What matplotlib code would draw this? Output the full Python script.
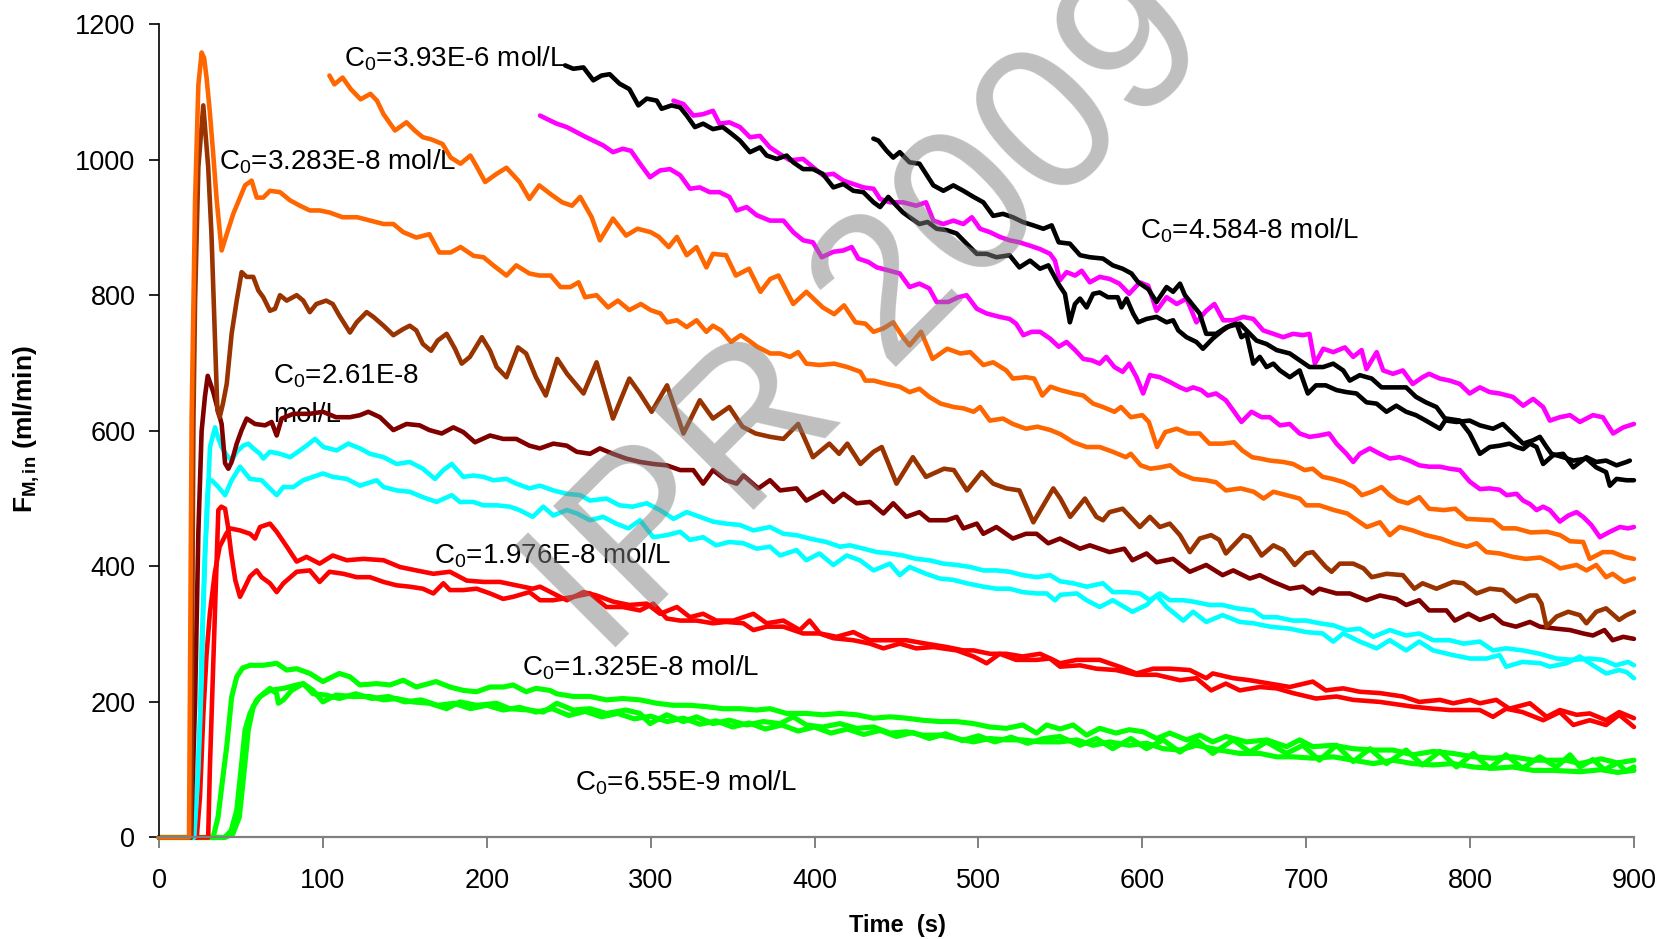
import numpy as np
import matplotlib
matplotlib.use("Agg")
import matplotlib.pyplot as plt

plt.rcParams["font.family"] = ["Liberation Sans", "DejaVu Sans"]
plt.rcParams["mathtext.fontset"] = "custom"
plt.rcParams["mathtext.rm"] = "Liberation Sans"
plt.rcParams["mathtext.it"] = "Liberation Sans:italic"
plt.rcParams["mathtext.bf"] = "Liberation Sans:bold"

# ── Flow-rate traces F_M,in (ml/min) vs time (s), read as (t, F) pairs ──────
ORANGE_HI = [
    (104, 1124), (107, 1111), (112, 1121), (117, 1104), (123, 1089), (129, 1097), (133, 1087),
    (137, 1067), (144, 1043), (151, 1055), (156, 1043), (161, 1033), (166, 1030), (173, 1023),
    (178, 1003), (184, 994), (190, 1006), (194, 989), (199, 967), (206, 979), (212, 988),
    (220, 967), (226, 942), (232, 962), (239, 949), (246, 937), (252, 932), (257, 945),
    (264, 915), (269, 881), (277, 913), (285, 888), (292, 898), (300, 893), (305, 886),
    (311, 871), (316, 886), (322, 859), (328, 871), (334, 841), (338, 861), (346, 859),
    (352, 829), (360, 839), (367, 805), (373, 824), (378, 829), (387, 787), (395, 805),
    (405, 782), (412, 772), (418, 785), (425, 760), (431, 758), (436, 746), (442, 751),
    (448, 760), (454, 738), (458, 726), (465, 746), (472, 706), (481, 721), (489, 714),
    (495, 716), (503, 697), (509, 701), (517, 689), (521, 677), (529, 679), (534, 677),
    (539, 652), (544, 665), (550, 660), (558, 655), (564, 652), (570, 640), (576, 635),
    (583, 628), (587, 635), (593, 620), (600, 623), (604, 613), (609, 576), (614, 598),
    (621, 603), (628, 596), (635, 596), (641, 581), (649, 581), (656, 583), (661, 571),
    (667, 561), (672, 559), (678, 556), (686, 554), (692, 551), (699, 542), (704, 544),
    (710, 532), (716, 529), (723, 524), (729, 517), (734, 505), (740, 510), (746, 517),
    (751, 505), (756, 497), (762, 493), (769, 502), (775, 485), (784, 483), (791, 485),
    (798, 470), (806, 469), (814, 468), (820, 456), (828, 456), (837, 450), (847, 451),
    (855, 446), (861, 437), (869, 436), (873, 411), (881, 421), (887, 421), (894, 414),
    (900, 411),
]

ORANGE_LO = [
    (0, 0), (18.3, 0), (19.3, 400), (19.9, 620), (22, 940), (24, 1110), (26, 1158),
    (27.5, 1150), (29, 1121), (31, 1070), (33, 1010), (35.2, 940), (38.2, 866), (41.3, 890),
    (45.3, 920), (49.4, 944), (52.5, 962), (56.5, 969), (59.6, 944), (63.6, 944), (67.7, 954),
    (73.8, 952), (79.9, 940), (86, 932), (92, 925), (98, 925), (104, 922), (112, 915),
    (121, 915), (129, 910), (137, 905), (143, 905), (149, 893), (157, 885), (165, 890),
    (171, 863), (178, 863), (184, 871), (192, 858), (198, 856), (204, 844), (212, 829),
    (218, 844), (226, 832), (232, 829), (239, 829), (245, 812), (251, 812), (256, 819),
    (260, 797), (267, 800), (274, 782), (280, 792), (287, 778), (294, 787), (300, 778),
    (306, 773), (310, 760), (316, 763), (322, 753), (328, 763), (334, 746), (338, 755),
    (343, 748), (349, 731), (355, 741), (360, 733), (365, 724), (373, 714), (379, 714),
    (385, 709), (390, 716), (395, 699), (403, 697), (412, 699), (420, 694), (428, 687),
    (431, 674), (436, 674), (444, 669), (452, 665), (458, 657), (464, 662), (470, 650),
    (477, 640), (485, 635), (491, 633), (497, 628), (501, 635), (507, 615), (515, 618),
    (521, 610), (529, 603), (536, 606), (544, 601), (550, 595), (558, 583), (566, 576),
    (574, 576), (582, 569), (590, 561), (593, 566), (599, 549), (605, 544), (611, 546),
    (617, 549), (623, 537), (631, 529), (639, 527), (645, 524), (651, 512), (660, 515),
    (668, 510), (674, 500), (680, 510), (688, 505), (696, 500), (700, 490), (708, 490),
    (717, 483), (725, 478), (731, 468), (737, 458), (745, 465), (751, 446), (757, 458),
    (765, 453), (773, 446), (782, 441), (790, 434), (798, 429), (804, 434), (810, 421),
    (818, 419), (826, 414), (834, 411), (843, 413), (849, 406), (855, 397), (865, 402),
    (871, 394), (877, 402), (883, 384), (887, 389), (894, 377), (900, 382),
]

BROWN = [
    (0, 0), (19.5, 0), (21, 615), (22, 792), (24, 989), (27, 1080), (30, 989), (32, 890),
    (34, 743), (35.6, 630), (37, 620), (39, 640), (41.3, 669), (44.3, 743), (47.4, 792),
    (50.4, 834), (53.5, 827), (57.5, 827), (60.6, 807), (63.6, 797), (67.7, 777), (70.8, 780),
    (73.8, 800), (77.9, 792), (84, 800), (88, 792), (92, 775), (96, 787), (102, 792),
    (106, 787), (110, 770), (116.5, 745), (120.6, 760), (126.7, 775), (130.8, 768), (137, 755),
    (143, 741), (149, 750), (153, 755), (157, 748), (161, 728), (166, 718), (170, 733),
    (175.5, 743), (180.6, 721), (184.7, 699), (189.7, 709), (197, 738), (202, 718), (206, 694),
    (212, 679), (219, 723), (224, 714), (230, 679), (236, 652), (243, 706), (249, 684),
    (259, 655), (267, 701), (277, 618), (287, 677), (293.5, 655), (300.6, 628), (310, 667),
    (320, 596), (330, 645), (338, 618), (348, 635), (356, 606), (364, 596), (373, 591),
    (381, 588), (390, 610), (399, 561), (409, 581), (415, 566), (420, 581), (428, 551),
    (436, 569), (441, 576), (450, 522), (460, 561), (468, 532), (479, 544), (485, 542),
    (493, 512), (502, 539), (509, 522), (517, 515), (525, 512), (533.5, 465), (545.7, 515),
    (550, 500), (556, 473), (565, 500), (572, 473), (576, 468), (580, 480), (588, 485),
    (598.5, 458), (604.6, 473), (610.7, 458), (616.8, 463), (623, 446), (629, 421), (635, 441),
    (642, 446), (647, 439), (651, 419), (661.6, 446), (665.6, 443), (672.8, 416), (680, 431),
    (686, 424), (693, 402), (700, 419), (704, 421), (712, 399), (715.5, 392), (720.5, 404),
    (728.7, 404), (735, 397), (740, 384), (749, 389), (759, 387), (766, 367), (771, 375),
    (779.5, 367), (789.7, 377), (796, 375), (804, 360), (812, 367), (820, 365), (828, 348),
    (836.5, 357), (840.6, 357), (843.6, 345), (846.7, 311), (852.8, 326), (859.9, 333),
    (867, 328), (871, 316), (877, 333), (883, 338), (891, 321), (895.5, 328), (900, 333),
]

MAROON = [
    (0, 0), (19.5, 0), (22, 200), (24, 450), (26, 600), (28, 650), (29.7, 681), (31, 672),
    (33, 658), (36, 630), (38.2, 610), (40.3, 552), (42.3, 544), (44.3, 554), (47.4, 581),
    (50.4, 601), (53.5, 618), (58.6, 610), (64.7, 608), (68.7, 613), (71.8, 593), (74.8, 618),
    (82, 625), (92, 625), (100, 628), (108, 620), (116.5, 620), (122.6, 623), (127.7, 628),
    (134.8, 620), (143, 601), (151, 610), (159, 608), (165, 601), (172.5, 596), (179.6, 605),
    (185.7, 598), (192.8, 583), (202, 593), (210, 588), (218, 588), (226, 578), (232.4, 574),
    (240.6, 581), (248.8, 578), (254.9, 569), (263, 566), (269, 574), (277, 566), (285, 559),
    (293.5, 554), (301.6, 551), (309.8, 549), (318, 542), (326, 542), (332, 522), (338, 542),
    (346, 527), (352.5, 522), (356.6, 534), (365.7, 515), (372.8, 527), (379, 512), (389, 515),
    (395, 497), (405, 510), (411.5, 495), (417.6, 507), (425.7, 493), (433.8, 495), (442, 478),
    (448, 493), (456, 473), (464, 480), (470, 468), (480.6, 468), (486.7, 473), (490.8, 456),
    (499, 463), (503, 448), (511, 458), (521, 441), (529, 448), (535.5, 448), (542.6, 434),
    (549.8, 441), (562, 426), (568, 431), (580, 421), (589, 426), (594, 409), (602.6, 419),
    (608.7, 406), (618.8, 411), (629, 392), (639, 402), (649, 387), (655.5, 394), (665.6, 382),
    (671.7, 387), (680, 377), (690, 367), (698, 370), (704, 360), (708, 367), (718.5, 360),
    (726.6, 360), (736.8, 350), (745, 357), (755, 352), (761, 343), (769, 350), (775, 335),
    (785.6, 335), (790.7, 320), (799, 330), (806, 321), (814, 328), (820, 316), (828, 311),
    (836.5, 318), (842.6, 311), (852.8, 308), (861, 306), (869, 301), (875, 298), (882, 306),
    (887, 291), (893.5, 296), (900, 293),
]

CYAN_HI = [
    (0, 0), (21, 0), (23, 60), (25, 180), (26, 281), (28, 420), (29.1, 463), (31.1, 576),
    (34.2, 605), (36, 590), (38.2, 576), (41.3, 564), (44.3, 556), (47.4, 569), (51.4, 578),
    (54.5, 581), (57.5, 574), (61.6, 566), (63.6, 559), (67.7, 569), (73.8, 566), (80, 561),
    (86, 571), (90, 578), (95.2, 588), (100.3, 576), (108.4, 571), (115.5, 581), (122.6, 574),
    (128.7, 566), (137, 561), (145, 551), (153, 554), (161, 544), (168.4, 529), (173.5, 542),
    (178.6, 551), (185.7, 532), (191.8, 534), (198, 532), (204, 527), (212, 529), (218, 522),
    (226, 515), (232.5, 519), (240.6, 512), (248.8, 507), (257, 505), (263, 497), (273, 500),
    (281, 490), (289, 488), (297.6, 493), (305.7, 483), (314, 470), (322, 480), (330, 473),
    (338, 466), (346, 463), (354.5, 461), (362.7, 453), (372.8, 458), (381, 448), (389, 446),
    (397, 441), (407, 436), (415.5, 429), (421.6, 431), (430, 426), (438, 421), (446, 419),
    (454, 416), (462, 411), (470, 409), (478.6, 404), (486.7, 402), (495, 399), (503, 394),
    (511, 394), (519, 392), (527, 387), (535.5, 384), (543.7, 387), (549.8, 378), (557.8, 375),
    (566, 370), (576, 375), (582, 362), (590, 362), (598.5, 360), (604.6, 350), (610.7, 360),
    (616.8, 350), (625, 350), (631, 348), (641, 343), (649, 343), (657.5, 338), (667.7, 335),
    (673.8, 325), (682, 325), (692, 320), (700, 320), (708, 316), (716.5, 313), (724.6, 306),
    (732.7, 308), (741, 296), (751, 306), (761, 298), (769, 301), (777.5, 291), (787.6, 291),
    (796, 286), (806, 289), (814, 276), (822, 279), (832, 276), (842.6, 271), (852.8, 264),
    (863, 262), (873, 264), (881, 262), (889, 254), (896.5, 259), (900, 254),
]

CYAN_LO = [
    (0, 0), (21.5, 0), (24, 100), (26, 230), (27, 330), (29, 480), (30.1, 527), (32.1, 527),
    (36.2, 517), (40.3, 505), (44.3, 527), (49.4, 547), (55.5, 529), (62.6, 527), (66.7, 517),
    (71.8, 505), (75.9, 517), (82, 517), (88, 527), (94, 532), (100, 537), (106, 532),
    (114.5, 529), (122.6, 519), (132.8, 527), (137, 517), (145, 512), (153, 510), (161, 502),
    (169.4, 495), (178.6, 505), (183.6, 495), (191.8, 495), (198, 490), (206, 490), (214, 488),
    (220, 483), (228, 473), (234.5, 488), (240.6, 475), (248.8, 483), (255, 478), (263, 468),
    (271, 473), (279, 463), (286.4, 456), (293.5, 468), (301.6, 443), (309.8, 446), (318, 451),
    (324, 439), (332, 443), (340, 431), (348, 436), (356.6, 434), (364.7, 426), (372.8, 429),
    (379, 416), (389, 424), (395, 409), (403, 419), (411.5, 402), (419.6, 416), (427.7, 409),
    (436, 394), (446, 404), (452, 387), (458, 399), (468, 389), (476.5, 382), (484.7, 380),
    (492.8, 375), (503, 370), (511, 367), (519, 367), (527, 362), (535.5, 360), (541.6, 360),
    (546.7, 350), (550, 358), (560, 360), (566, 350), (574, 340), (582, 350), (594, 333),
    (602.6, 343), (608.7, 357), (614.8, 340), (625, 320), (631, 333), (639, 318), (649, 328),
    (659.5, 318), (667.7, 316), (678, 311), (690, 308), (700, 303), (710, 301), (716.5, 289),
    (722.6, 301), (732.7, 289), (743, 279), (751, 291), (761, 276), (769, 289), (777.5, 276),
    (789.7, 269), (800, 264), (810, 264), (818, 269), (822, 252), (832, 259), (843, 257),
    (848.7, 252), (858.9, 257), (867, 267), (875, 254), (883, 242), (891, 247), (895.5, 244),
    (900, 235),
]

RED_LO = [
    (0, 0), (30, 0), (31, 100), (33, 250), (34.5, 360), (36.2, 483), (38, 488), (40.3, 485),
    (42, 460), (44, 420), (46.5, 380), (49.4, 355), (52.5, 370), (55.5, 385), (59.6, 394),
    (62.6, 384), (67.7, 375), (71.8, 362), (75.9, 375), (84, 392), (92, 394), (98, 377),
    (104, 392), (112.5, 389), (120.6, 384), (128.7, 384), (137, 377), (145, 372), (153, 370),
    (161, 367), (167.4, 360), (173.5, 375), (177.5, 365), (185.7, 365), (193.8, 367), (202, 360),
    (210, 352), (216, 355), (226, 362), (232.5, 350), (240.6, 350), (252.8, 355), (263, 360),
    (273, 340), (283, 340), (293.5, 335), (301.6, 345), (309.8, 323), (318, 320), (328, 320),
    (338, 316), (346, 318), (356.6, 316), (362.7, 306), (370.8, 311), (381, 311), (393, 301),
    (403, 301), (411.5, 294), (423.7, 291), (433.8, 286), (442, 279), (452, 286), (462, 279),
    (472.5, 281), (486.7, 276), (497, 267), (505, 257), (513, 271), (523, 262), (535.5, 262),
    (543.7, 264), (549.8, 252), (562, 254), (572, 249), (584, 247), (596.5, 240), (608.7, 240),
    (623, 232), (633, 235), (642, 217), (651, 227), (659.5, 217), (671.7, 222), (682, 220),
    (692, 213), (706, 205), (718.5, 208), (728.7, 203), (745, 200), (765, 193), (777.5, 190),
    (787.6, 188), (802, 188), (806, 188), (814, 178), (822, 190), (832, 185), (844.6, 173),
    (854.8, 185), (863, 166), (873, 173), (883, 166), (891, 181), (900, 163),
]

RED_HI = [
    (0, 0), (23, 0), (25, 60), (27, 180), (29, 270), (31, 330), (34, 390), (37, 429),
    (41, 448), (43.3, 456), (49.4, 453), (55.5, 448), (58.6, 441), (61.6, 458), (67.7, 463),
    (71.8, 451), (78, 429), (84, 407), (90, 414), (98, 404), (106, 416), (114.5, 409),
    (124.7, 411), (137, 409), (147, 399), (157, 394), (167.4, 389), (177.5, 392), (187.7, 379),
    (198, 377), (208, 377), (218, 372), (228, 367), (232.5, 370), (240.6, 360), (248.8, 350),
    (259, 362), (267, 357), (277, 348), (287, 343), (297.6, 345), (305.7, 330), (316, 340),
    (324, 325), (332, 330), (340, 320), (350.5, 320), (362.7, 330), (370.8, 316), (381, 320),
    (391, 306), (397, 320), (403.3, 301), (413.5, 296), (423.7, 303), (433.8, 291), (444, 291),
    (456, 291), (468, 286), (480.6, 281), (490.8, 276), (497, 276), (507, 271), (517, 271),
    (527, 267), (537.6, 271), (545.7, 262), (549.8, 257), (560, 262), (574, 262), (586, 252),
    (596.5, 242), (606.6, 249), (616.8, 249), (629, 247), (639, 235), (643, 242), (655.5, 235),
    (665.6, 232), (677.8, 227), (690, 222), (704, 230), (712, 217), (722.6, 220), (732.7, 215),
    (745, 213), (759, 208), (769, 200), (781.6, 203), (789.7, 198), (800, 203), (806, 198),
    (816, 203), (824, 190), (836.5, 198), (846.7, 178), (854.8, 188), (865, 181), (873, 183),
    (883, 173), (891, 185), (900, 176),
]

GREEN_A = [
    (0, 0), (33, 0), (36, 30), (38.5, 80), (41.3, 134), (44.3, 207), (47.4, 237), (51, 250),
    (55.5, 254), (63.6, 254), (71.8, 257), (77.9, 247), (84, 249), (92, 242), (100, 230),
    (110, 242), (116.5, 237), (122.6, 225), (132.8, 227), (141, 225), (149, 232), (157, 222),
    (169, 230), (177.5, 222), (185.7, 217), (193.8, 215), (202, 222), (210, 222), (216, 225),
    (224, 215), (230, 220), (238.5, 217), (242.7, 212), (252.8, 208), (263, 208), (273, 203),
    (283, 205), (293.5, 203), (303.7, 198), (314, 195), (324, 195), (334, 193), (344, 190),
    (354.5, 190), (364.7, 188), (372.8, 190), (383, 183), (395, 183), (405, 181), (415.5, 183),
    (425.7, 181), (436, 176), (446, 178), (456, 176), (466, 173), (476.5, 171), (486.7, 171),
    (497, 168), (507, 163), (517, 161), (527, 166), (535.5, 154), (541.6, 166), (549.8, 160),
    (557.8, 166), (566, 151), (574, 161), (584, 154), (592, 159), (600.5, 156), (608.7, 146),
    (616.8, 154), (627, 144), (635, 151), (643, 141), (651, 149), (663.6, 141), (676, 144),
    (688, 134), (696, 144), (704, 134), (716.5, 136), (728.7, 131), (741, 129), (753, 129),
    (765, 122), (777.5, 127), (789.7, 124), (802, 119), (814, 117), (826, 119), (838.5, 114),
    (846.6, 114), (858.8, 114), (867, 109), (880, 116), (890, 110), (900, 114),
]

GREEN_B = [
    (0, 0), (40, 0), (44, 10), (47.4, 40), (50.4, 109), (52.5, 159), (55.5, 183), (59.6, 203),
    (63.6, 212), (67.7, 220), (71.8, 212), (72.8, 198), (75.9, 203), (80.9, 217), (88, 227),
    (94, 217), (100, 200), (108, 210), (118.6, 208), (128.7, 208), (137, 203), (145, 205),
    (155, 200), (165, 198), (175.5, 190), (183.6, 200), (193.8, 195), (206, 198), (214, 190),
    (226, 188), (234.5, 185), (242.7, 198), (252.8, 188), (263, 190), (273, 183), (285, 188),
    (293.5, 183), (299.6, 168), (309.8, 181), (320, 171), (328, 178), (338, 168), (348, 173),
    (358.6, 166), (368.8, 171), (379, 168), (387, 178), (395, 166), (405, 163), (415.5, 168),
    (425.7, 161), (436, 163), (446, 154), (456, 156), (466, 151), (476.5, 151), (486.7, 146),
    (497, 141), (507, 146), (517, 144), (527, 144), (537.6, 141), (549.7, 141), (560, 144),
    (570, 136), (580, 141), (592, 136), (602.6, 139), (612.7, 131), (623, 129), (633, 136),
    (647, 129), (659.5, 124), (671.7, 124), (682, 119), (692, 119), (704, 117), (716.5, 119),
    (728.7, 114), (741, 109), (753, 114), (765, 109), (777.5, 107), (789.7, 109), (802, 104),
    (814, 102), (826, 104), (838.5, 99), (850.7, 99), (867, 97), (880, 100), (890, 96),
    (900, 99),
]

GREEN_C = [
    (0, 0), (40, 0), (45, 5), (49, 30), (51.4, 85), (54.5, 159), (57.5, 193), (61.6, 208),
    (67.7, 217), (75.9, 220), (84, 225), (88, 227), (94, 212), (102, 210), (110, 205),
    (120, 212), (130, 205), (140, 208), (150, 200), (160, 203), (170, 195), (180, 198),
    (190, 190), (200, 195), (210, 188), (220, 192), (230, 185), (240, 190), (250, 180),
    (260, 186), (270, 178), (280, 183), (290, 175), (300, 179), (310, 171), (320, 176),
    (330, 167), (340, 172), (350, 163), (360, 169), (370, 160), (380, 166), (390, 157),
    (400, 163), (410, 154), (420, 160), (430, 152), (440, 158), (450, 149), (460, 155),
    (470, 146), (480, 153), (490, 143), (500, 150), (510, 141), (520, 148), (530, 139),
    (540, 146), (549.7, 149), (561.9, 136), (572, 146), (582, 131), (593, 146), (602.6, 131),
    (612.7, 144), (623, 126), (633, 144), (643, 124), (655.5, 144), (665.6, 126), (675.8, 141),
    (688, 124), (698, 136), (708, 114), (718.5, 136), (728.7, 112), (739, 131), (749, 109),
    (761, 129), (771, 107), (781.6, 127), (791.7, 104), (802, 124), (812, 102), (822, 122),
    (832, 102), (842.5, 119), (852.7, 104), (861, 122), (867, 104), (875, 115), (882, 100),
    (890, 110), (895, 98), (900, 104),
]

MAGENTA_LO = [
    (232.5, 1065), (236.6, 1060), (242.7, 1053), (248.8, 1048), (252.8, 1043), (259, 1035),
    (265, 1028), (271, 1021), (277, 1011), (283, 1016), (288, 1013), (293.5, 994), (299.6, 974),
    (305.7, 984), (311.8, 986), (318, 977), (324, 957), (330, 959), (336, 952), (342, 952),
    (348, 945), (352.5, 925), (358.6, 930), (364.7, 918), (372.8, 910), (381, 910), (387, 893),
    (393, 881), (399, 878), (404.4, 856), (411.5, 864), (417.6, 866), (422.7, 871), (426.7, 854),
    (432.8, 849), (438, 841), (446, 836), (452, 832), (458, 812), (464, 817), (470, 810),
    (474.5, 790), (481.6, 790), (487.7, 797), (492.8, 800), (499, 780), (505, 773), (513, 768),
    (519, 765), (523, 758), (527.4, 741), (532.5, 746), (537.6, 746), (543.7, 736), (549, 724),
    (553.8, 731), (559, 719), (564, 706), (569, 704), (574, 699), (578, 709), (583, 694),
    (588, 687), (592, 699), (596.5, 679), (600.5, 655), (604.6, 682), (610.7, 679), (616.8, 672),
    (623, 664), (627, 660), (631, 664), (636, 660), (640, 652), (645, 655), (651, 645),
    (655.5, 630), (660.5, 613), (666.6, 628), (672.8, 620), (677.8, 620), (684, 608), (690, 610),
    (696, 596), (702, 591), (708, 593), (714, 596), (718.5, 581), (724.6, 566), (728.7, 554),
    (732.7, 566), (738.8, 574), (745, 566), (751, 559), (757, 561), (763, 556), (769, 549),
    (775, 547), (781.6, 547), (787.6, 544), (793.8, 542), (799.8, 525), (806, 514), (812, 515),
    (818, 513), (822.3, 505), (828.4, 507), (832.4, 497), (836.5, 492), (840.6, 483),
    (844.6, 488), (848.7, 483), (854.8, 466), (860, 475), (865, 480), (869, 473), (874, 461),
    (879.2, 443), (885.3, 451), (891.4, 458), (896.5, 456), (900, 458),
]

MAGENTA_HI = [
    (313.9, 1087), (320, 1082), (326, 1065), (332, 1067), (338, 1072), (342, 1053), (348, 1055),
    (354.5, 1048), (360.6, 1033), (366.7, 1035), (372.8, 1018), (379, 1008), (385, 999),
    (393, 1001), (399, 989), (405, 977), (411.5, 979), (417.6, 969), (423.7, 964), (429.8, 959),
    (436, 957), (440, 942), (446, 937), (454, 937), (462, 932), (468, 937), (472.5, 910),
    (478.6, 905), (484.7, 910), (490.8, 905), (496, 915), (501, 898), (507, 893), (513, 886),
    (519, 881), (525, 878), (531.5, 873), (537.6, 868), (543.7, 861), (546.7, 851), (549.7, 822),
    (553.8, 834), (559, 829), (563, 836), (568, 819), (574, 827), (580, 824), (586, 817),
    (592, 802), (598.5, 819), (603.6, 814), (608.7, 777), (614.8, 797), (621, 787), (627, 795),
    (633, 760), (639, 777), (644, 787), (649.4, 763), (655.5, 763), (661.6, 768), (667.7, 765),
    (673.8, 748), (680, 743), (686, 738), (692, 743), (698, 741), (702, 743), (705.3, 699),
    (710.4, 721), (716.5, 716), (723.6, 723), (728.7, 709), (733.8, 719), (736.8, 691),
    (743, 716), (747, 689), (753, 684), (759, 689), (765, 669), (771, 679), (775, 684),
    (781.6, 677), (787.6, 674), (793.8, 669), (799.8, 655), (806, 664), (812, 657), (818, 655),
    (826, 650), (832.4, 637), (838.5, 647), (844.6, 635), (848.7, 615), (854.8, 620), (861, 623),
    (867, 613), (875, 623), (881, 620), (887.3, 596), (893.5, 605), (900, 610),
]

BLACK_A = [
    (247.8, 1139), (252.8, 1134), (259, 1136), (265, 1117), (270, 1124), (275, 1126),
    (281, 1112), (287, 1104), (292.5, 1080), (297.6, 1090), (303.7, 1087), (306.7, 1075),
    (312.8, 1080), (318, 1077), (322, 1065), (327, 1048), (332, 1053), (338, 1045), (344, 1048),
    (349.4, 1038), (354.5, 1028), (360.6, 1011), (366.7, 1018), (370.8, 1006), (377, 1001),
    (383, 1006), (387, 996), (393, 986), (399, 986), (405, 979), (411.5, 959), (417.6, 964),
    (423.7, 954), (429.8, 952), (436, 937), (440, 930), (445, 945), (450, 932), (454, 922),
    (458, 915), (464, 905), (469, 908), (474.5, 898), (480.6, 896), (486.7, 891), (492.8, 876),
    (499, 861), (505, 861), (511, 856), (519, 859), (525, 841), (531.5, 851), (537.6, 839),
    (542.7, 844), (549, 816), (552.8, 802), (555.8, 760), (558.9, 787), (562, 795), (566, 782),
    (570, 802), (574, 804), (579, 797), (585, 797), (587.3, 782), (590.4, 795), (594.4, 773),
    (597.5, 760), (602.6, 765), (608.7, 768), (614.8, 760), (618.8, 763), (622, 748), (627, 738),
    (633, 731), (637, 721), (643, 736), (649, 748), (653.4, 755), (657.5, 758), (660.5, 738),
    (663.6, 743), (667.7, 699), (671.7, 709), (675.8, 694), (680, 699), (684, 689), (690, 679),
    (696, 689), (701, 655), (706, 667), (712, 667), (718.5, 660), (724.6, 657), (730.7, 655),
    (736.8, 642), (743, 640), (749, 628), (755, 637), (761, 628), (767, 623), (773, 615),
    (781.6, 603), (785.6, 618), (793.8, 615), (799.8, 596), (806, 566), (812, 576), (818, 578),
    (824, 581), (828.4, 576), (832.4, 573), (836.5, 581), (840.6, 576), (844.6, 551),
    (850.7, 564), (856.8, 566), (863, 546), (871, 561), (877, 554), (883, 556), (889.4, 549),
    (895.5, 554), (897.5, 556),
]

BLACK_B = [
    (435.9, 1031), (439, 1028), (444, 1013), (448, 1003), (452, 1011), (458, 996), (464, 994),
    (468, 979), (472.5, 962), (478.6, 954), (484.7, 962), (490.8, 954), (497, 945), (503, 937),
    (509, 917), (515, 920), (521, 915), (527, 908), (533.5, 903), (539.6, 898), (544.7, 903),
    (549, 878), (555.8, 876), (562, 859), (568, 856), (576, 854), (582, 844), (588, 839),
    (593.4, 832), (597.5, 819), (603.6, 809), (608.7, 790), (614.8, 812), (618.8, 805),
    (623, 817), (626, 800), (631, 785), (635, 773), (639, 743), (645, 743), (651.4, 753),
    (659.5, 758), (663.6, 748), (669.7, 733), (675.8, 728), (682, 719), (690, 714), (696, 704),
    (702, 694), (710.4, 694), (716.5, 699), (722.6, 689), (726.6, 674), (732.7, 682), (740, 677),
    (746, 664), (753, 664), (761, 664), (767, 650), (773, 642), (779.5, 635), (785.6, 615),
    (791.7, 613), (799.8, 615), (806, 608), (814, 603), (820, 610), (826, 596), (832.4, 581),
    (838.5, 586), (842.6, 591), (846.7, 576), (849.7, 566), (856.8, 561), (863, 556), (871, 559),
    (877, 546), (883, 539), (885.3, 519), (889.4, 529), (895.5, 527), (900, 527),
]

# drawing order and colours (Excel palette)
SERIES = [
    (GREEN_A, "#00FF00"), (GREEN_B, "#00FF00"), (GREEN_C, "#00FF00"),
    (RED_LO, "#FF0000"), (RED_HI, "#FF0000"),
    (CYAN_LO, "#00FFFF"), (CYAN_HI, "#00FFFF"),
    (MAROON, "#800000"), (BROWN, "#993300"),
    (ORANGE_LO, "#FF6600"), (ORANGE_HI, "#FF6600"),
    (MAGENTA_LO, "#FF00FF"), (MAGENTA_HI, "#FF00FF"),
    (BLACK_A, "#000000"), (BLACK_B, "#000000"),
]

# concentration labels: (text, t, F baseline)
LABELS = [
    (r"C$_0$=3.93E-6 mol/L", 112.9, 1138),
    (r"C$_0$=3.283E-8 mol/L", 36.6, 985),
    (r"C$_0$=2.61E-8", 69.4, 669),
    ("mol/L", 69.6, 613),
    (r"C$_0$=4.584-8 mol/L", 598.5, 883),
    (r"C$_0$=1.976E-8 mol/L", 167.8, 404),
    (r"C$_0$=1.325E-8 mol/L", 221.5, 239),
    (r"C$_0$=6.55E-9 mol/L", 253.8, 70),
]

fig = plt.figure(figsize=(16.6, 9.39), dpi=100, facecolor="white")
ax = fig.add_axes([0.0958, 0.1081, 0.8885, 0.8663])

for pts, col in SERIES:
    t, f = np.array(pts, dtype=float).T
    lw = 3.7 if col == "#00FF00" else 3.3
    ax.plot(t, f, color=col, lw=lw, solid_joinstyle="round",
            solid_capstyle="round", clip_on=False, zorder=2)

for txt, t, f in LABELS:
    ax.text(t, f, txt, fontsize=20, ha="left", va="baseline", zorder=1)

ax.set_xlim(0, 900)
ax.set_ylim(0, 1200)
ax.set_xticks(np.arange(0, 901, 100))
ax.set_yticks(np.arange(0, 1201, 200))
for side in ("top", "right"):
    ax.spines[side].set_visible(False)
ax.spines["left"].set_color("black")
ax.spines["left"].set_linewidth(1.2)
ax.spines["bottom"].set_color("#808080")
ax.spines["bottom"].set_linewidth(1.6)
ax.tick_params(axis="x", direction="out", length=8, width=1.4, color="#808080",
               labelsize=19.5, pad=14)
ax.tick_params(axis="y", direction="out", length=7, width=1.2, color="black",
               labelsize=19.5, pad=10)

fig.text(0.5408, 0.0146, "Time  (s)", fontsize=17, fontweight="bold",
         ha="center", va="center")
fig.text(0.016, 0.543, r"$\mathbf{F_{M,in}}$ (ml/min)", fontsize=19,
         fontweight="bold", rotation=90, ha="center", va="center")

# grey watermark laid over the plot
fig.text(0.363, 0.296, "IPR 2009", fontsize=150, color="#808080", alpha=0.5,
         rotation=45, rotation_mode="anchor", ha="left", va="baseline", zorder=5)

fig.savefig("out.png", dpi=100, facecolor="white")
